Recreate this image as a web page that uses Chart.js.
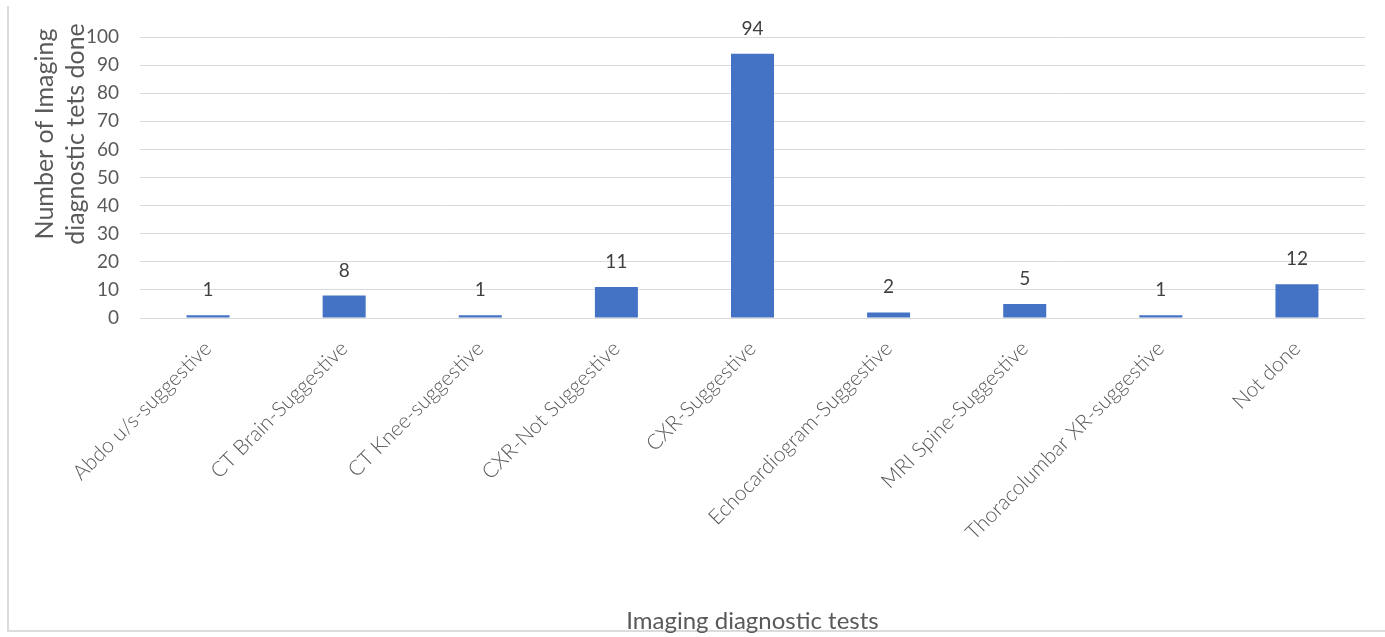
<!DOCTYPE html>
<html>
<head>
<meta charset="utf-8">
<script src="https://cdn.jsdelivr.net/npm/chart.js@4.4.1/dist/chart.umd.min.js"></script>
<style>
  html, body { margin: 0; padding: 0; background: #ffffff; }
  #wrap { position: relative; width: 1385px; height: 637px; }
  #frame { position: absolute; left: 7px; top: 6px; width: 1378px; height: 626px;
           border-left: 2px solid #dcdcdc; border-bottom: 2px solid #dcdcdc; box-sizing: border-box; }
  canvas { position: absolute; left: 0; top: 0; }
</style>
</head>
<body>
<div id="wrap">
  <div id="frame"></div>
  <canvas id="chart" width="1385" height="637"></canvas>
</div>
<script>
// Imaging diagnostic tests and how many of each were done
const categories = [
  "Abdo u/s-suggestive",
  "CT Brain-Suggestive",
  "CT Knee-suggestive",
  "CXR-Not Suggestive",
  "CXR-Suggestive",
  "Echocardiogram-Suggestive",
  "MRI Spine-Suggestive",
  "Thoracolumbar XR-suggestive",
  "Not done"
];
const testCounts = [1, 8, 1, 11, 94, 2, 5, 1, 12];
const yTickValues = [0, 10, 20, 30, 40, 50, 60, 70, 80, 90, 100];
const yTitleLines = ["Number of Imaging", "diagnostic tets done"];
const xTitle = "Imaging diagnostic tests";

const FONT = "Lato, 'Open Sans', sans-serif";
const TEXT = "#595959";

// value printed above each bar
const barValueLabels = {
  id: "barValueLabels",
  afterDatasetsDraw(chart) {
    const ctx = chart.ctx;
    const meta = chart.getDatasetMeta(0);
    ctx.save();
    ctx.font = "19px " + FONT;
    ctx.fillStyle = "#404040";
    ctx.textAlign = "center";
    ctx.textBaseline = "alphabetic";
    meta.data.forEach((bar, i) => {
      ctx.fillText(String(chart.data.datasets[0].data[i]), bar.x, bar.y - 19);
    });
    ctx.restore();
  }
};

// two-line vertical axis title
const yAxisTitle = {
  id: "yAxisTitle",
  afterDraw(chart) {
    const ctx = chart.ctx;
    ctx.save();
    ctx.font = "25px " + FONT;
    ctx.fillStyle = TEXT;
    ctx.textAlign = "center";
    ctx.textBaseline = "alphabetic";
    ctx.translate(53, 134);
    ctx.rotate(-Math.PI / 2);
    yTitleLines.forEach((line, i) => ctx.fillText(line, 0, i * 31));
    ctx.restore();
  }
};

new Chart(document.getElementById("chart"), {
  type: "bar",
  data: {
    labels: categories,
    datasets: [{
      data: testCounts,
      backgroundColor: "#4472C4",
      borderWidth: 0,
      barPercentage: 0.316,
      categoryPercentage: 1.0
    }]
  },
  options: {
    responsive: false,
    animation: false,
    devicePixelRatio: 1,
    layout: { padding: { top: 37, right: 20, bottom: 0, left: 0 } },
    plugins: { legend: { display: false }, tooltip: { enabled: false } },
    scales: {
      x: {
        grid: { display: false, drawTicks: false },
        border: { display: false },
        ticks: {
          autoSkip: false,
          minRotation: 45,
          maxRotation: 45,
          padding: 18,
          color: TEXT,
          font: { family: FONT, size: 21, weight: 300 }
        },
        title: {
          display: true,
          text: xTitle,
          color: TEXT,
          font: { family: FONT, size: 24 },
          padding: { top: 0, bottom: 1 }
        },
        afterFit(scale) { scale.height = 319; }
      },
      y: {
        min: 0,
        max: 100,
        afterBuildTicks(scale) { scale.ticks = yTickValues.map(v => ({ value: v })); },
        grid: { color: "#d9d9d9", lineWidth: 1, drawTicks: false },
        border: { display: false },
        ticks: {
          padding: 21,
          color: TEXT,
          font: { family: FONT, size: 19 }
        },
        afterFit(scale) { scale.width = 140; }
      }
    }
  },
  plugins: [barValueLabels, yAxisTitle]
});
</script>
</body>
</html>
